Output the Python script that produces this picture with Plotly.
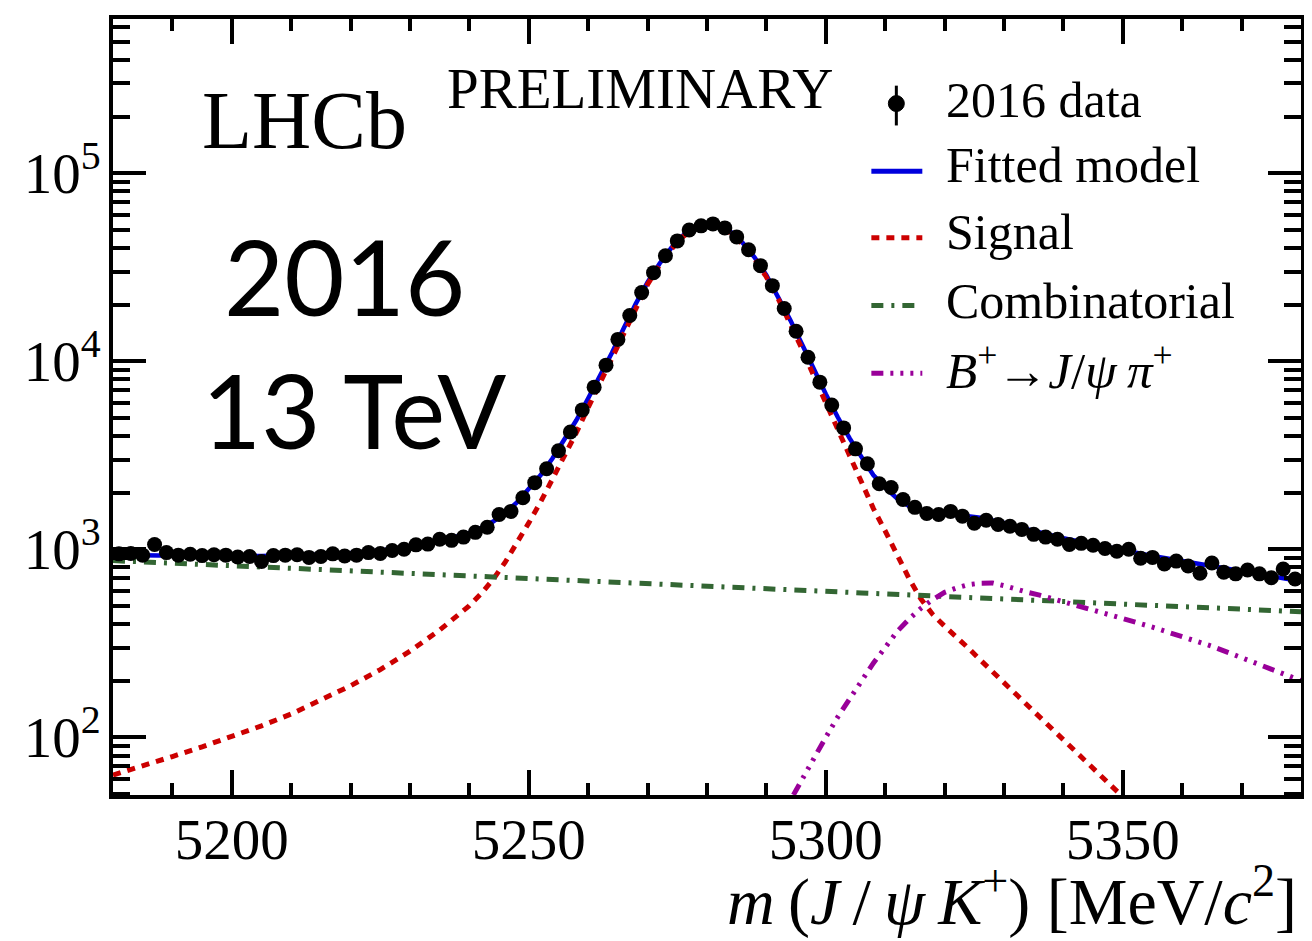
import plotly.graph_objects as go

# ---------------- data ----------------
bin_width = 2
mass_centers = [5181 + bin_width * i for i in range(100)]
data_counts = [
    945, 950, 930, 1060, 960, 930, 940, 925, 935, 930,
    910, 915, 860, 925, 930, 935, 905, 915, 945, 920,
    930, 960, 950, 985, 1000, 1055, 1065, 1130, 1115, 1160,
    1230, 1310, 1530, 1590, 1880, 2260, 2680, 3340, 4200, 5510,
    7280, 9530, 13060, 17500, 23170, 29580, 36390, 43650, 49880, 52480,
    53740, 51170, 45830, 39150, 32220, 25230, 19060, 14420, 10490, 7740,
    5850, 4420, 3420, 2850, 2230, 2130, 1840, 1670, 1550, 1530,
    1590, 1500, 1375, 1425, 1355, 1325, 1275, 1200, 1160, 1130,
    1060, 1075, 1050, 1010, 975, 1000, 895, 905, 835, 865,
    815, 745, 845, 755, 740, 775, 740, 705, 785, 695,
]

curve_mass = [
    5180, 5185, 5190, 5195, 5200, 5205, 5210, 5215, 5220, 5225, 5230, 5235, 5240,
    5242, 5244, 5246, 5248, 5250, 5252, 5254, 5256, 5258, 5260,
    5262, 5264, 5266, 5268, 5270, 5272, 5274, 5276, 5278, 5280,
    5282, 5284, 5286, 5288, 5290, 5292, 5294, 5296, 5298, 5300,
    5302, 5304, 5306, 5308, 5310, 5312, 5314, 5316, 5318, 5320,
    5322, 5324, 5326, 5328, 5330, 5332, 5334, 5336, 5338, 5340,
    5345, 5350, 5355, 5360, 5365, 5370, 5375, 5380,
]
signal_curve = [
    63, 70, 79, 89, 101, 115, 133, 157, 188, 229, 287, 372, 501,
    582, 692, 851, 1072, 1381, 1786, 2360, 3114, 4168, 5673,
    7677, 10431, 14335, 19539, 25644, 32348, 39452, 46056, 50660, 52664,
    51968, 48072, 41976, 35080, 28053, 21449, 15943, 11633, 8319, 6000,
    4326, 3148, 2314, 1650, 1250, 920, 700, 545, 450, 390,
    343, 298, 258, 224, 195, 169, 147, 127, 110, 96,
    67, 47, 34, 25, 19, 15, 12, 10,
]
comb_curve = [
    870, 857, 843, 830, 817, 805, 792, 780, 768, 756, 744, 732, 721,
    717, 712, 708, 703, 699, 695, 690, 686, 682, 677,
    673, 669, 665, 661, 656, 652, 648, 644, 640, 636,
    632, 628, 624, 620, 617, 613, 609, 605, 601, 598,
    594, 590, 586, 583, 579, 576, 572, 568, 565, 561,
    558, 554, 551, 547, 544, 541, 537, 534, 530, 527,
    519, 511, 503, 495, 488, 480, 473, 465,
]
pi_curve = [
    None, None, None, None, None, None, None, None, None, None, None, None, None,
    None, None, None, None, None, None, None, None, None, None,
    None, None, None, None, None, None, None, None, None, None,
    None, None, None, None, 30, 36, 46, 60, 78, 100,
    128, 160, 200, 248, 300, 365, 425, 485, 540, 590,
    622, 648, 660, 662, 640, 612, 590, 570, 548, 522,
    478, 428, 385, 345, 305, 265, 230, 200,
]
model_curve = [s + c + (p or 0) for s, c, p in zip(signal_curve, comb_curve, pi_curve)]
data_errors = [n ** 0.5 for n in data_counts]

y_major = [100, 1000, 10000, 100000]
y_major_text = ["10<sup>2</sup>", "10<sup>3</sup>", "10<sup>4</sup>", "10<sup>5</sup>"]
y_minor = [m * 10 ** e for e in range(1, 6) for m in range(2, 10)]
x_major = [5200, 5250, 5300, 5350]

SERIF = "Liberation Serif"
BLUE = "#0000dd"
RED = "#cc0000"
GREEN = "#336633"
MAGENTA = "#990099"
DASH_SIG = "8px,7px"
DASH_COMB = "12px,8px,3px,8px"
DASH_PI = "12px,7px,3px,7px,3px,7px,3px,7px"

fig = go.Figure()
fig.add_trace(go.Scatter(x=curve_mass, y=model_curve, mode="lines",
                         line=dict(color=BLUE, width=4.5), showlegend=False))
fig.add_trace(go.Scatter(x=curve_mass, y=signal_curve, mode="lines",
                         line=dict(color=RED, width=5, dash=DASH_SIG), showlegend=False))
fig.add_trace(go.Scatter(x=curve_mass, y=comb_curve, mode="lines",
                         line=dict(color=GREEN, width=5, dash=DASH_COMB), showlegend=False))
fig.add_trace(go.Scatter(x=curve_mass, y=pi_curve, mode="lines", connectgaps=False,
                         line=dict(color=MAGENTA, width=5, dash=DASH_PI), showlegend=False))
fig.add_trace(go.Scatter(x=mass_centers, y=data_counts, mode="markers",
                         marker=dict(color="black", size=15, symbol="circle"),
                         error_y=dict(type="data", array=data_errors, color="black",
                                      thickness=3, width=0),
                         showlegend=False))

# page has an 8px body margin: figure placed at (8, 8) in the window
OFF = 8
W, H = 1312 - OFF, 941 - OFF
X0, X1, Y0, Y1 = 113, 1302, 15, 795          # plot area in window pixels
L, T = X0 - OFF, Y0 - OFF
R, B = W - (X1 - OFF), H - (Y1 - OFF)
PW, PH = X1 - X0, Y1 - Y0


def px(xp):
    return (xp - X0) / PW


def py(yp):
    return (Y1 - yp) / PH


annotations = []
shapes = []


def add_text(text, x, y, size, family=SERIF, xanchor="left"):
    annotations.append(dict(text=text, x=px(x), y=py(y), xref="paper", yref="paper",
                            xanchor=xanchor, yanchor="middle", showarrow=False,
                            font=dict(family=family, size=size, color="black")))


add_text("LHCb", 200, 117, 82)
add_text("PRELIMINARY", 445, 85, 57)
add_text("2016", 222, 273, 104, family="Lato")
add_text("13 TeV", 200, 408, 102, family="Lato")

# legend
leg_text_x = 945
add_text("2016 data", leg_text_x, 96, 50)
add_text("Fitted model", leg_text_x, 162, 50)
add_text("Signal", leg_text_x, 229, 50)
add_text("Combinatorial", leg_text_x, 298, 50)
add_text("<i>B</i><sup>+</sup>→<i>J</i>/<i>ψ</i>\u2009<i>π</i><sup>+</sup>", leg_text_x, 365, 51)

# legend samples
shapes.append(dict(type="line", xref="paper", yref="paper", x0=px(897), x1=px(897),
                   y0=py(82), y1=py(122), line=dict(color="black", width=3)))
shapes.append(dict(type="circle", xref="paper", yref="paper", x0=px(889), x1=px(905),
                   y0=py(108), y1=py(92), fillcolor="black", line=dict(color="black", width=1)))
for yy, col, dash in [(168, BLUE, "solid"), (235, RED, DASH_SIG),
                      (303, GREEN, DASH_COMB), (371, MAGENTA, DASH_PI)]:
    shapes.append(dict(type="line", xref="paper", yref="paper", x0=px(872), x1=px(923),
                       y0=py(yy), y1=py(yy), line=dict(color=col, width=5, dash=dash)))

# axis title
annotations.append(dict(
    text="<i>m</i>\u2009(<i>J</i>\u2009/\u2009<i>ψ</i>\u2009<i>K</i><sup>+</sup>)\u00a0[MeV/<i>c</i><sup>2</sup>]",
    x=px(1300), y=py(898), xref="paper", yref="paper", xanchor="right", yanchor="middle",
    showarrow=False, font=dict(family=SERIF, size=66, color="black")))

fig.update_layout(
    width=W, height=H, autosize=False,
    margin=dict(l=L, r=R, t=T, b=B, pad=0),
    paper_bgcolor="white", plot_bgcolor="white",
    showlegend=False,
    annotations=annotations, shapes=shapes,
    xaxis=dict(range=[5180, 5380], showline=True, linecolor="black", linewidth=4,
               mirror="allticks", ticks="inside", ticklen=25, tickwidth=4, tickcolor="black",
               tickvals=x_major, ticktext=[str(v) for v in x_major],
               tickfont=dict(family=SERIF, size=57, color="black"),
               minor=dict(ticks="inside", ticklen=12, tickwidth=4, tickcolor="black",
                          dtick=10, showgrid=False),
               showgrid=False, zeroline=False, ticklabelstandoff=-8),
    yaxis=dict(type="log", range=[1.693, 5.820], showline=True, linecolor="black",
               linewidth=4, mirror="allticks", ticks="inside", ticklen=33, tickwidth=4,
               tickcolor="black", tickvals=y_major, ticktext=y_major_text,
               tickfont=dict(family=SERIF, size=57, color="black"),
               minor=dict(ticks="inside", ticklen=17, tickwidth=4, tickcolor="black",
                          tickvals=y_minor, showgrid=False),
               showgrid=False, zeroline=False, ticklabelstandoff=-3),
)

fig.write_html("out.html")
